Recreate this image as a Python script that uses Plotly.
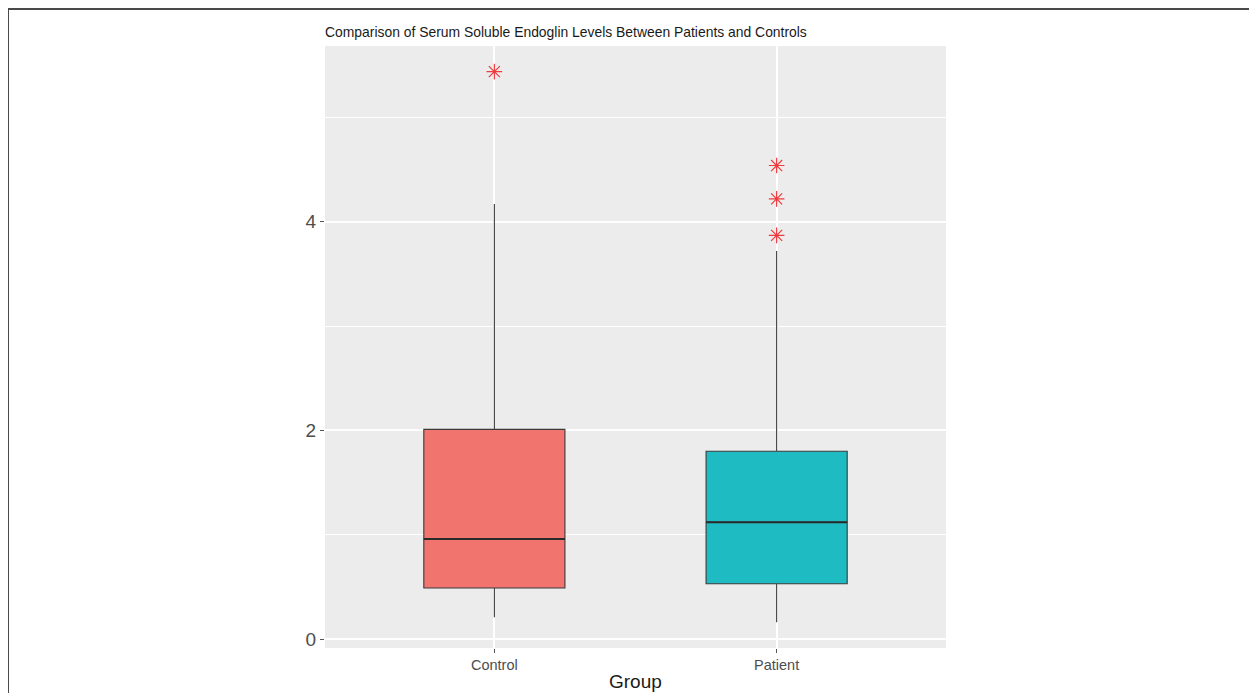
import plotly.graph_objects as go

# Data
groups = ["Control", "Patient"]
q1 = [0.49, 0.53]
median = [0.96, 1.12]
q3 = [2.01, 1.80]
lower_whisker = [0.21, 0.16]
upper_whisker = [4.17, 3.72]
outlier_groups = ["Control", "Patient", "Patient", "Patient"]
outlier_values = [5.44, 4.54, 4.22, 3.87]

fill_colors = ["#F1746E", "#1FBBC2"]
# page has an 8px body margin; work in figure coordinates
OFF = 8
W, H = 1257 - OFF, 693 - OFF
L, R, T, B = 325 - OFF, 946 - OFF, 46 - OFF, 648 - OFF

fig = go.Figure()
for i, g in enumerate(groups):
    fig.add_trace(go.Box(
        x=[g], q1=[q1[i]], median=[median[i]], q3=[q3[i]],
        lowerfence=[lower_whisker[i]], upperfence=[upper_whisker[i]],
        boxpoints=False, width=0.5, whiskerwidth=0,
        fillcolor=fill_colors[i], line=dict(color="#3a3a3a", width=1.1),
        showlegend=False, hoverinfo="skip",
    ))
    # thicker median line like ggplot
    fig.add_shape(type="line", xref="x", yref="y",
                  x0=i - 0.25, x1=i + 0.25, y0=median[i], y1=median[i],
                  line=dict(color="#2a2a2a", width=2))

fig.add_trace(go.Scatter(
    x=outlier_groups, y=outlier_values, mode="markers",
    marker=dict(symbol="asterisk-open", size=13, color="#F03A3E",
                line=dict(color="#F03A3E", width=1.2)),
    showlegend=False, hoverinfo="skip",
))

# frame (left, top, right) in paper coords
pw, ph = R - L, B - T
def px(x): return (x - L) / pw
def py(y): return (B - y) / ph
fx0, fy0, fx1, fy1 = 0, 1, 1247, H + 5
for (x0, y0, x1, y1) in [(fx0, fy0, fx0, fy1), (fx0, fy0, fx1, fy0), (fx1, fy0, fx1, fy1)]:
    fig.add_shape(type="line", xref="paper", yref="paper",
                  x0=px(x0), y0=py(y0), x1=px(x1), y1=py(y1),
                  line=dict(color="#4a4a4a", width=2))

font = "Liberation Sans, Arial, Helvetica, sans-serif"
fig.add_annotation(text="Group", xref="paper", yref="paper", x=0.5, y=py(681 - OFF),
                   xanchor="center", yanchor="middle", showarrow=False,
                   font=dict(size=19, color="#1a1a1a", family=font))

fig.update_layout(
    width=W, height=H,
    margin=dict(l=L, r=W - R, t=T, b=H - B, pad=0, autoexpand=False),
    paper_bgcolor="white", plot_bgcolor="#EBECEB",
    font=dict(family=font, color="#4D4D4D"),
    title=dict(text="Comparison of Serum Soluble Endoglin Levels Between Patients and Controls",
               x=0, xref="paper", xanchor="left", y=1 - 24 / H, yref="container",
               yanchor="middle", font=dict(size=13.9, color="#1a1a1a", family=font)),
    xaxis=dict(type="category", categoryorder="array", categoryarray=groups,
               range=[-0.6, 1.6], showgrid=True, gridcolor="white", gridwidth=1.5,
               zeroline=False, showline=False, ticks="outside", ticklen=4,
               tickcolor="#555", tickfont=dict(size=14.5, color="#4D4D4D"),
               automargin=False),
    yaxis=dict(range=[-0.086, 5.686], dtick=2, tick0=0, showgrid=True,
               gridcolor="white", gridwidth=1.5, zeroline=False, showline=False,
               ticks="outside", ticklen=4, tickcolor="#555",
               tickfont=dict(size=19, color="#4D4D4D"), automargin=False,
               minor=dict(dtick=1, tick0=0, showgrid=True, gridcolor="white", gridwidth=0.7, ticks="")),
)

fig.write_html("out.html")
